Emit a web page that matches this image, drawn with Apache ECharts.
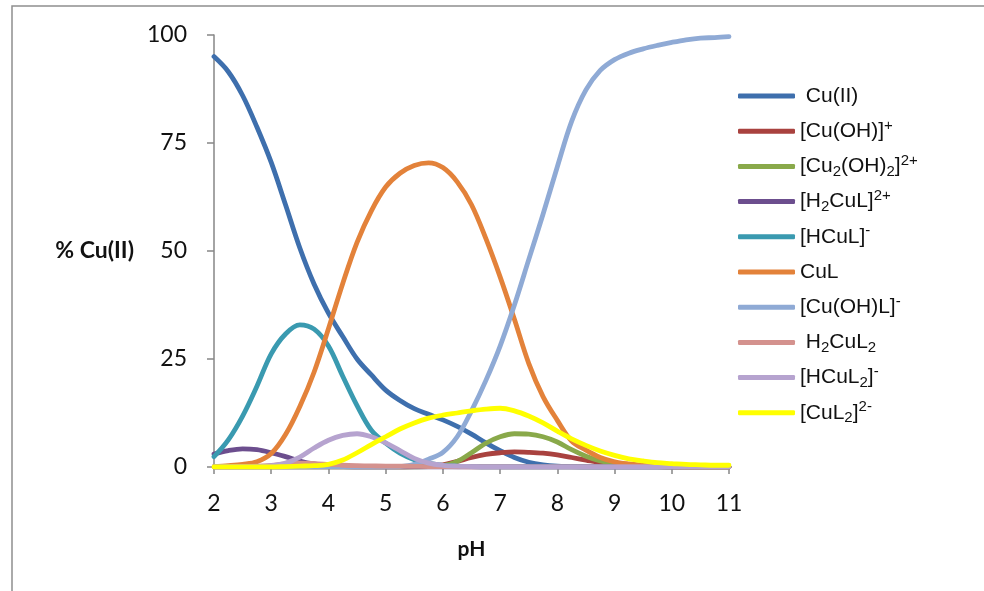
<!DOCTYPE html>
<html>
<head>
<meta charset="utf-8">
<title>Cu(II) speciation vs pH</title>
<script src="https://cdn.jsdelivr.net/npm/echarts@6/dist/echarts.min.js"></script>
<style>
  html, body { margin: 0; padding: 0; background: #ffffff; }
  #chart { width: 984px; height: 591px; }
</style>
</head>
<body>
<div id="chart"></div>
<script>
// pH grid of the speciation calculation
const pH = [2, 2.25, 2.5, 2.75, 3, 3.25, 3.5, 3.75, 4, 4.25, 4.5, 4.75, 5, 5.25, 5.5, 5.75,
            6, 6.25, 6.5, 6.75, 7, 7.25, 7.5, 7.75, 8, 8.25, 8.5, 8.75, 9, 9.25, 9.5, 9.75,
            10, 10.25, 10.5, 10.75, 11];

// % of total Cu(II) in each species
const cuFree   = [95, 91.5, 86, 78.7, 70.5, 60.7, 50.7, 42.3, 35.6, 30.2, 25, 21.3, 17.8, 15.4, 13.5, 12.2,
                  10.9, 9.4, 7.6, 5.6, 3.8, 2.2, 1.1, 0.5, 0.2, 0.1, 0, 0, 0, 0, 0, 0,
                  0, 0, 0, 0, 0];
const cuOH     = [0, 0, 0, 0, 0, 0, 0, 0, 0, 0, 0, 0, 0, 0, 0.1, 0.2,
                  0.5, 1.3, 2.2, 2.9, 3.3, 3.5, 3.4, 3.2, 2.8, 2.2, 1.6, 1.0, 0.6, 0.3, 0.2, 0.1,
                  0, 0, 0, 0, 0];
const cu2OH2   = [0, 0, 0, 0, 0, 0, 0, 0, 0, 0, 0, 0, 0, 0, 0, 0.1,
                  0.3, 1.3, 3.3, 5.5, 7.0, 7.7, 7.6, 7.0, 5.8, 4.0, 2.5, 1.4, 0.8, 0.4, 0.2, 0.1,
                  0, 0, 0, 0, 0];
const h2CuL    = [3.0, 3.8, 4.2, 4.0, 3.3, 2.4, 1.4, 0.7, 0.3, 0.1, 0, 0, 0, 0, 0, 0,
                  0, 0, 0, 0, 0, 0, 0, 0, 0, 0, 0, 0, 0, 0, 0, 0,
                  0, 0, 0, 0, 0];
const hCuL     = [2.4, 6.3, 11.8, 18.7, 26.2, 30.8, 32.9, 31.9, 28, 21, 14.2, 8.5, 5.5, 3.2, 1.7, 0.9,
                  0.4, 0.2, 0.1, 0, 0, 0, 0, 0, 0, 0, 0, 0, 0, 0, 0, 0,
                  0, 0, 0, 0, 0];
const cuL      = [0.1, 0.3, 0.6, 1.2, 3.1, 7.5, 14, 22, 32, 42.5, 52, 59.3, 64.8, 68, 69.8, 70.4,
                  69.3, 66, 60.7, 52.9, 44, 34.2, 24, 16.3, 10.8, 6.0, 3.9, 2.2, 1.2, 0.7, 0.4, 0.2,
                  0.1, 0, 0, 0, 0];
const cuOHL    = [0, 0, 0, 0, 0, 0, 0, 0, 0, 0, 0, 0, 0, 0.1, 0.6, 1.8,
                  3.4, 7.0, 13, 20, 28, 37.5, 48, 58.5, 69.5, 80, 87.3, 91.8, 94.3, 95.8, 96.8, 97.6,
                  98.3, 98.9, 99.3, 99.4, 99.6];
const h2CuL2   = [0, 0.05, 0.1, 0.2, 0.4, 0.7, 0.9, 0.8, 0.6, 0.4, 0.3, 0.25, 0.2, 0.2, 0.15, 0.1,
                  0.1, 0.05, 0, 0, 0, 0, 0, 0, 0, 0, 0, 0, 0, 0, 0, 0,
                  0, 0, 0, 0, 0];
const hCuL2    = [0, 0, 0, 0.1, 0.3, 0.9, 2.3, 4.4, 6.2, 7.3, 7.7, 7.0, 5.6, 3.8, 2.0, 0.9,
                  0.4, 0.2, 0.1, 0, 0, 0, 0, 0, 0, 0, 0, 0, 0, 0, 0, 0,
                  0, 0, 0, 0, 0];
const cuL2     = [0, 0, 0, 0, 0, 0.1, 0.2, 0.3, 0.6, 1.6, 3.3, 5.2, 7.0, 8.8, 10.2, 11.3,
                  12.0, 12.5, 13.0, 13.4, 13.6, 13.0, 11.8, 10.2, 8.3, 6.5, 5.0, 3.7, 2.7, 1.9, 1.4, 1.0,
                  0.8, 0.6, 0.5, 0.4, 0.4];

// Species names and their legend labels (rich text for sub/superscripts)
const speciesNames = ['Cu(II)', '[Cu(OH)]+', '[Cu2(OH)2]2+', '[H2CuL]2+', '[HCuL]-', 'CuL',
                      '[Cu(OH)L]-', 'H2CuL2', '[HCuL2]-', '[CuL2]2-'];
const speciesLabels = {
  'Cu(II)': ' Cu(II)',
  '[Cu(OH)]+': '[Cu(OH)]{sup|+}',
  '[Cu2(OH)2]2+': '[Cu{sub|2}(OH){sub|2}]{sup|2+}',
  '[H2CuL]2+': '[H{sub|2}CuL]{sup|2+}',
  '[HCuL]-': '[HCuL]{sup|-}',
  'CuL': 'CuL',
  '[Cu(OH)L]-': '[Cu(OH)L]{sup|-}',
  'H2CuL2': ' H{sub|2}CuL{sub|2}',
  '[HCuL2]-': '[HCuL{sub|2}]{sup|-}',
  '[CuL2]2-': '[CuL{sub|2}]{sup|2-}'
};
const speciesValues = [cuFree, cuOH, cu2OH2, h2CuL, hCuL, cuL, cuOHL, h2CuL2, hCuL2, cuL2];
const speciesColors = ['#3E6FAD', '#A9423F', '#89A94A', '#6C4E8E', '#3A9AB0', '#E3823A',
                       '#8FAAD5', '#D4928E', '#B6A3CF', '#FFFF00'];

const xTicks = { min: 2, max: 11, interval: 1 };
const yTicks = { min: 0, max: 100, interval: 25 };

const chart = echarts.init(document.getElementById('chart'), null, { renderer: 'canvas' });

const series = speciesNames.map((name, i) => ({
  name: name,
  type: 'line',
  data: pH.map((x, j) => [x, speciesValues[i][j]]),
  smooth: 0.35,
  showSymbol: false,
  symbol: 'none',
  color: speciesColors[i],
  lineStyle: { width: 4.8, color: speciesColors[i], cap: 'round', join: 'round' },
  emphasis: { disabled: true },
  z: 2 + i
}));

const axisFont = 'Lato, "Open Sans", sans-serif';
const legendFont = '"Liberation Sans", Arial, sans-serif';

chart.setOption({
  animation: false,
  backgroundColor: '#ffffff',
  graphic: [{
    type: 'rect',
    shape: { x: 12, y: 6, width: 990, height: 600 },
    style: { fill: 'none', stroke: '#8f8f8f', lineWidth: 1.5 },
    silent: true,
    z: 0
  }],
  grid: { left: 214, right: 255, top: 35, bottom: 124, containLabel: false },
  legend: {
    orient: 'vertical',
    left: 738,
    top: 83,
    padding: 0,
    itemWidth: 57,
    itemHeight: 5,
    itemGap: 9.2,
    icon: 'roundRect',
    data: speciesNames,
    formatter: name => speciesLabels[name],
    textStyle: {
      fontFamily: legendFont,
      fontSize: 21,
      color: '#111111',
      lineHeight: 26,
      rich: {
        sub: { fontSize: 15, verticalAlign: 'bottom', lineHeight: 16, fontFamily: legendFont, color: '#111111' },
        sup: { fontSize: 15, verticalAlign: 'top', lineHeight: 13, fontFamily: legendFont, color: '#111111' }
      }
    },
    selectedMode: false
  },
  xAxis: {
    type: 'value',
    min: xTicks.min,
    max: xTicks.max,
    interval: xTicks.interval,
    name: 'pH',
    nameLocation: 'middle',
    nameGap: 72,
    nameTextStyle: { fontFamily: axisFont, fontWeight: 'bold', fontSize: 21, color: '#111111' },
    axisLine: { onZero: false, lineStyle: { color: '#868686', width: 1.5 } },
    axisTick: { show: true, length: 7, lineStyle: { color: '#868686', width: 1.5 } },
    axisLabel: { margin: 25, fontFamily: axisFont, fontSize: 23, color: '#111111' },
    splitLine: { show: false }
  },
  yAxis: {
    type: 'value',
    min: yTicks.min,
    max: yTicks.max,
    interval: yTicks.interval,
    name: '% Cu(II)',
    nameLocation: 'middle',
    nameRotate: 0,
    nameGap: 80,
    nameTextStyle: { fontFamily: axisFont, fontWeight: 'bold', fontSize: 23, color: '#111111', align: 'right', verticalAlign: 'middle' },
    axisLine: { show: true, lineStyle: { color: '#868686', width: 1.5 } },
    axisTick: { show: true, length: 7, lineStyle: { color: '#868686', width: 1.5 } },
    axisLabel: { margin: 27, fontFamily: axisFont, fontSize: 23, color: '#111111' },
    splitLine: { show: false }
  },
  series: series
});
</script>
</body>
</html>
